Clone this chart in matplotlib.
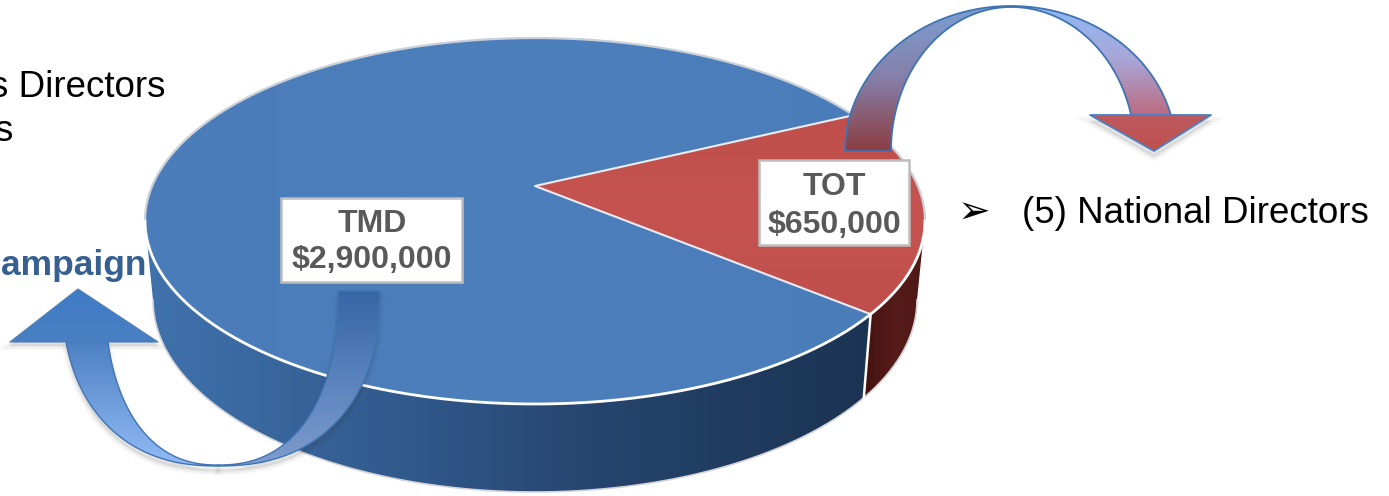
import numpy as np
import matplotlib
matplotlib.use('Agg')
import matplotlib.pyplot as plt
from matplotlib.colors import LinearSegmentedColormap, to_rgb
from matplotlib.patches import Polygon, Rectangle

categories = ['TMD', 'TOT']
budget = [2900000, 650000]
budget_labels = ['$2,900,000', '$650,000']

# pie drawn in pixel space, y pointing down
TOP = dict(cx=535, cy=221, rx=390, ry=183)
BOTTOM = dict(cx=535, cy=300, rx=382, ry=192)
APEX = (535, 186)
RED_MID_ANGLE = 2.35

plt.rcParams['font.family'] = ['Liberation Sans', 'DejaVu Sans']


def rim(e, t0, t1, n=200):
    t = np.radians(np.linspace(t0, t1, n))
    return np.column_stack([e['cx'] + e['rx'] * np.cos(t), e['cy'] - e['ry'] * np.sin(t)])


def arc(cx, cy, rx, ry, y_end, bulge=2.0, n=80):
    # superellipse quarter from the crown (cx, cy + ry) down to height y_end; rx sign picks the side
    f_end = abs(y_end - cy) / abs(ry)
    a_end = np.arcsin(f_end ** (bulge / 2))
    a = np.linspace(np.pi / 2, a_end, n)
    return np.column_stack([cx + rx * np.cos(a) ** (2 / bulge), cy + ry * np.sin(a) ** (2 / bulge)])


def gradient_fill(ax, verts, stops, horizontal=False, zorder=1, edge=None, lw=1.0):
    verts = np.asarray(verts)
    x0, y0 = verts.min(axis=0)
    x1, y1 = verts.max(axis=0)
    cmap = LinearSegmentedColormap.from_list('g', [to_rgb(c) for c in stops])
    ramp = np.linspace(0, 1, 256)
    img = ramp[None, :] if horizontal else ramp[:, None]
    im = ax.imshow(img, cmap=cmap, extent=(x0, x1, y1, y0), origin='upper',
                   aspect='auto', zorder=zorder, interpolation='bilinear')
    patch = Polygon(verts, closed=True, transform=ax.transData, fc='none',
                    ec=edge if edge else 'none', lw=lw, zorder=zorder + 0.01, joinstyle='round')
    ax.add_patch(patch)
    im.set_clip_path(patch)


def soft_shadow(ax, verts, dy=5, zorder=1):
    for grow, a in zip((6, 4, 2), (0.03, 0.035, 0.04)):
        ax.add_patch(Polygon(np.asarray(verts) + [0, dy], closed=True, fc='#404040',
                             ec='#404040', lw=grow, alpha=a, zorder=zorder))


fig = plt.figure(figsize=(13.89, 4.96), dpi=100)
ax = fig.add_axes([0, 0, 1, 1])
ax.axis('off')

# wedge angles follow the two budget shares
red_sweep = 360 * budget[1] / sum(budget)
t_start = RED_MID_ANGLE + red_sweep / 2
t_end = RED_MID_ANGLE - red_sweep / 2

# side walls
blue_side = np.vstack([rim(TOP, 180, 360 + t_end), rim(BOTTOM, 360 + t_end, 180)])
gradient_fill(ax, blue_side, ['#4072ad', '#37659a', '#2f5688', '#274670', '#203c60', '#1c3453'],
              horizontal=True, zorder=1)
red_side = np.vstack([rim(TOP, t_end, 0), rim(BOTTOM, 0, t_end)])
gradient_fill(ax, red_side, ['#441210', '#561c1a', '#4e1715'], horizontal=True, zorder=1)
ax.plot(*rim(BOTTOM, 0, -180).T, color='#d4d4d8', lw=1.2, zorder=1.2)
ax.plot([TOP['cx'] + TOP['rx'] * np.cos(np.radians(t_end)), BOTTOM['cx'] + BOTTOM['rx'] * np.cos(np.radians(t_end))],
        [TOP['cy'] - TOP['ry'] * np.sin(np.radians(t_end)), BOTTOM['cy'] - BOTTOM['ry'] * np.sin(np.radians(t_end))],
        color='white', lw=1.8, zorder=1.3)

# top face
top_face = rim(TOP, 0, 360, 400)
gradient_fill(ax, top_face, ['#4a7cba', '#4d7fbc', '#4a7cb9'], horizontal=True, zorder=2)
red_top = np.vstack([[APEX], rim(TOP, t_start, t_end)])
gradient_fill(ax, red_top, ['#bf4f4c', '#c65350', '#bf4f4c'], zorder=2.1)
edge_pts = rim(TOP, t_start, t_end, 2)
ax.plot([edge_pts[0, 0], APEX[0], edge_pts[1, 0]], [edge_pts[0, 1], APEX[1], edge_pts[1, 1]],
        color='#e8ecf2', lw=1.5, zorder=2.2)
ax.plot(*rim(TOP, 0, 180).T, color='#c9d0d8', lw=1.6, zorder=2.3)
ax.plot(*rim(TOP, 180, 360).T, color='white', lw=2.0, zorder=2.3)

# left arrow, from the TMD slice round to the head
back_left = np.vstack([arc(218, 291, 162, 175, 291, bulge=2.3), arc(218, 291, 120, 174, 291, bulge=2.3)[::-1]])
front_left = np.vstack([arc(218, 291, -156, 175, 342, bulge=2.3), arc(218, 291, -113, 174, 342, bulge=2.3)[::-1]])
head_left = [(78, 289), (158, 342), (10, 342)]
soft_shadow(ax, front_left, zorder=2.5)
soft_shadow(ax, back_left, zorder=2.5)
soft_shadow(ax, head_left, dy=4, zorder=2.5)
gradient_fill(ax, back_left, ['#3566a6', '#5a83bd', '#7f9ccd'], zorder=3, edge='#3f74b3', lw=1.0)
gradient_fill(ax, front_left, ['#4d81c4', '#92bbf6'], zorder=3.1, edge='#3f74b3', lw=1.0)
gradient_fill(ax, head_left, ['#3f7bc6', '#4a7fc2'], zorder=3.2, edge='#4a7ebb', lw=0.8)

# top arrow, from the TOT slice over to the head
rise = np.vstack([arc(1011, 151, -166, -145, 151), arc(1011, 151, -120, -144, 151)[::-1]])
fall = np.vstack([arc(1011, 151, 165, -145, 115), arc(1011, 151, 124, -144, 115)[::-1]])
head_top = [(1090, 115), (1211, 115), (1154, 151)]
soft_shadow(ax, head_top, dy=6, zorder=2.5)
gradient_fill(ax, fall, ['#8fb9f7', '#a9a5d6', '#bc6a80'], zorder=3, edge='#3f74b3', lw=1.3)
gradient_fill(ax, rise, ['#7b9fd2', '#857fa8', '#8d3d42'], zorder=3.1, edge='#3f74b3', lw=1.3)
gradient_fill(ax, head_top, ['#bc5a60', '#c0504d'], zorder=3.2, edge='#4a80c0', lw=1.3)

# value boxes
boxes = [(281, 198, 181, 84, 372, 232, 268), (759, 160, 150, 85, 834, 195, 233)]
for cat, lab, (bx, by, bw, bh, tx, y1, y2) in zip(categories, budget_labels, boxes):
    ax.add_patch(Rectangle((bx, by), bw, bh, fc='white', ec='#bdbdbd', lw=1.8, zorder=4))
    ax.text(tx, y1, cat, ha='center', va='baseline', fontsize=23, fontweight='bold', color='#595959', zorder=5)
    ax.text(tx, y2, lab, ha='center', va='baseline', fontsize=23, fontweight='bold', color='#595959', zorder=5)

# side notes
ax.text(165, 97, 's Directors', ha='right', va='baseline', fontsize=26.5, color='black', zorder=5)
ax.text(12, 141, 's', ha='right', va='baseline', fontsize=26.5, color='black', zorder=5)
ax.text(146, 275, 'ampaign', ha='right', va='baseline', fontsize=25.5, fontweight='bold', color='#366092', zorder=5)
ax.text(1022, 223, '(5) National Directors', ha='left', va='baseline', fontsize=26.5, color='black', zorder=5)
ax.text(974, 224, '\u27a2', ha='center', va='baseline', fontsize=28, family=['DejaVu Sans'], color='black', zorder=5)

ax.set_xlim(0, 1389)
ax.set_ylim(496, 0)
fig.savefig('out.png', dpi=100, facecolor='white')
